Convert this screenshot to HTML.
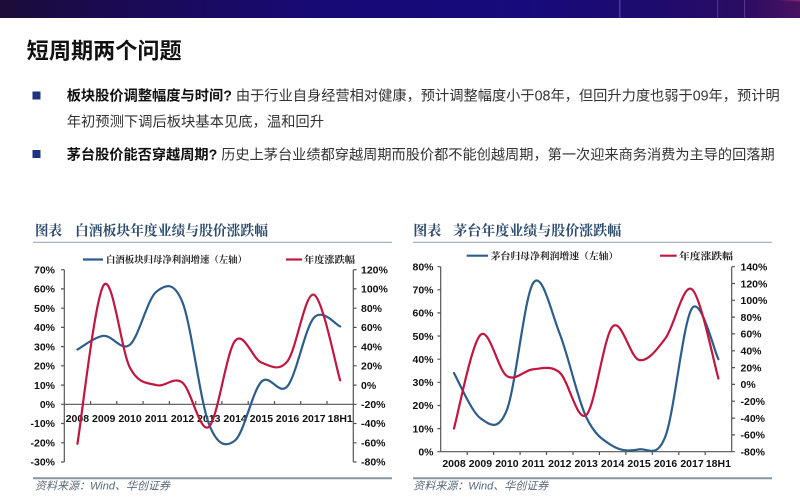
<!DOCTYPE html>
<html>
<head>
<meta charset="utf-8">
<style>
  html,body{margin:0;padding:0;background:#fff;}
  body{width:800px;height:499px;overflow:hidden;}
  svg{display:block;}
  .sans{font-family:"Liberation Sans","Noto Sans CJK SC",sans-serif;}
  .serif{font-family:"Liberation Serif","Noto Serif CJK SC",serif;}
  .ax{font-family:"Liberation Sans",Arial,sans-serif;font-weight:bold;font-size:10.5px;fill:#111;}
</style>
</head>
<body>
<svg id="s" width="800" height="499" viewBox="0 0 800 499" xmlns="http://www.w3.org/2000/svg">
  <defs>
    <linearGradient id="bn" x1="0" y1="0" x2="1" y2="0">
      <stop offset="0" stop-color="#1b0c3a"/>
      <stop offset="0.15" stop-color="#1b0a52"/>
      <stop offset="0.4" stop-color="#170a76"/>
      <stop offset="0.65" stop-color="#160a7c"/>
      <stop offset="0.82" stop-color="#1e0b6e"/>
      <stop offset="0.93" stop-color="#2b0c62"/>
      <stop offset="1" stop-color="#4a1262"/>
    </linearGradient>
    <radialGradient id="glow" cx="1" cy="0" r="0.12" gradientUnits="objectBoundingBox">
      <stop offset="0" stop-color="#a0307a" stop-opacity="0.8"/>
      <stop offset="1" stop-color="#a0307a" stop-opacity="0"/>
    </radialGradient>
  </defs>

  <!-- banner -->
  <rect x="0" y="0" width="800" height="18" fill="url(#bn)"/>
  <rect x="600" y="0" width="200" height="18" fill="url(#glow)"/>
  <rect x="619" y="0" width="1.5" height="18" fill="#6a5ab8" opacity="0.6"/>
  <rect x="717" y="0" width="1.2" height="18" fill="#6a5ab8" opacity="0.5"/>
  <rect x="744" y="0" width="1.2" height="18" fill="#7a5ab8" opacity="0.5"/>

  <!-- title -->
  <text class="sans" x="26.7" y="58.4" font-size="22" font-weight="bold" fill="#111" textLength="155" lengthAdjust="spacingAndGlyphs">短周期两个问题</text>

  <!-- bullets -->
  <rect x="32.5" y="91.5" width="8" height="8" fill="#1f3480"/>
  <rect x="32.5" y="150" width="8" height="8" fill="#1f3480"/>
  <text class="sans" x="66.7" y="100.4" font-size="14.3" fill="#333" textLength="713" lengthAdjust="spacingAndGlyphs"><tspan font-weight="bold" fill="#111">板块股价调整幅度与时间?</tspan> 由于行业自身经营相对健康，预计调整幅度小于08年，但回升力度也弱于09年，预计明</text>
  <text class="sans" x="66.7" y="126.4" font-size="14.3" fill="#333">年初预测下调后板块基本见底，温和回升</text>
  <text class="sans" x="66.7" y="159.4" font-size="14.3" fill="#333" textLength="708" lengthAdjust="spacingAndGlyphs"><tspan font-weight="bold" fill="#111">茅台股价能否穿越周期?</tspan> 历史上茅台业绩都穿越周期而股价都不能创越周期，第一次迎来商务消费为主导的回落期</text>

  <!-- ================= CHART 1 ================= -->
  <text class="serif" x="35" y="235.3" font-size="14" font-weight="bold" fill="#2c4a6e" textLength="27" lengthAdjust="spacingAndGlyphs">图表</text>
  <text class="serif" x="75" y="235.3" font-size="14" font-weight="bold" fill="#2c4a6e" textLength="193" lengthAdjust="spacingAndGlyphs">白酒板块年度业绩与股价涨跌幅</text>
  <line x1="33" y1="242.3" x2="392" y2="242.3" stroke="#9aabbd" stroke-width="1.2"/>

  <line x1="83" y1="259.5" x2="103" y2="259.5" stroke="#2d5d8b" stroke-width="2.2"/>
  <text class="serif" x="106" y="263" font-size="9.5" font-weight="bold" fill="#222" textLength="141" lengthAdjust="spacingAndGlyphs">白酒板块归母净利润增速（左轴）</text>
  <line x1="286" y1="259.5" x2="302" y2="259.5" stroke="#c0163f" stroke-width="2.2"/>
  <text class="serif" x="304" y="263" font-size="9.5" font-weight="bold" fill="#222" textLength="51" lengthAdjust="spacingAndGlyphs">年度涨跌幅</text>

  <!-- axes -->
  <g stroke="#555" stroke-width="1.2" fill="none">
    <line x1="64.3" y1="269.7" x2="64.3" y2="462"/>
    <line x1="353.3" y1="269.7" x2="353.3" y2="462"/>
    <line x1="64.3" y1="404.3" x2="353.3" y2="404.3"/>
    <path d="M61,269.7h3.3M61,288.9h3.3M61,308.2h3.3M61,327.4h3.3M61,346.6h3.3M61,365.8h3.3M61,385.1h3.3M61,404.3h3.3M61,423.5h3.3M61,442.8h3.3M61,462h3.3"/>
    <path d="M353.3,269.7h3.3M353.3,288.9h3.3M353.3,308.2h3.3M353.3,327.4h3.3M353.3,346.6h3.3M353.3,365.8h3.3M353.3,385.1h3.3M353.3,404.3h3.3M353.3,423.5h3.3M353.3,442.8h3.3M353.3,462h3.3"/>
    <path d="M90.6,401v3.3M116.8,401v3.3M143.1,401v3.3M169.4,401v3.3M195.7,401v3.3M221.9,401v3.3M248.2,401v3.3M274.5,401v3.3M300.7,401v3.3M327,401v3.3"/>
  </g>

  <g class="ax" text-anchor="end">
    <text x="55" y="273.4">70%</text>
    <text x="55" y="292.6">60%</text>
    <text x="55" y="311.9">50%</text>
    <text x="55" y="331.1">40%</text>
    <text x="55" y="350.3">30%</text>
    <text x="55" y="369.5">20%</text>
    <text x="55" y="388.8">10%</text>
    <text x="55" y="408">0%</text>
    <text x="55" y="427.2">-10%</text>
    <text x="55" y="446.5">-20%</text>
    <text x="55" y="465.7">-30%</text>
  </g>
  <g class="ax" text-anchor="start">
    <text x="361" y="273.4">120%</text>
    <text x="361" y="292.6">100%</text>
    <text x="361" y="311.9">80%</text>
    <text x="361" y="331.1">60%</text>
    <text x="361" y="350.3">40%</text>
    <text x="361" y="369.5">20%</text>
    <text x="361" y="388.8">0%</text>
    <text x="361" y="408">-20%</text>
    <text x="361" y="427.2">-40%</text>
    <text x="361" y="446.5">-60%</text>
    <text x="361" y="465.7">-80%</text>
  </g>
  <g class="ax" text-anchor="middle">
    <text x="77.4" y="422">2008</text>
    <text x="103.7" y="422">2009</text>
    <text x="130" y="422">2010</text>
    <text x="156.3" y="422">2011</text>
    <text x="182.5" y="422">2012</text>
    <text x="208.8" y="422">2013</text>
    <text x="235.1" y="422">2014</text>
    <text x="261.4" y="422">2015</text>
    <text x="287.6" y="422">2016</text>
    <text x="313.9" y="422">2017</text>
    <text x="340.2" y="422">18H1</text>
  </g>

  <path id="b1" fill="none" stroke="#2d5d8b" stroke-width="2.2" stroke-linejoin="round" stroke-linecap="round"/>
  <path id="r1" fill="none" stroke="#c0163f" stroke-width="2.2" stroke-linejoin="round" stroke-linecap="round"/>

  <line x1="33" y1="478.3" x2="392" y2="478.3" stroke="#8794a2" stroke-width="2"/>
  <text class="sans" x="35" y="489.7" font-size="11" font-style="italic" fill="#5a6878">资料来源：Wind、华创证券</text>

  <!-- ================= CHART 2 ================= -->
  <text class="serif" x="413.3" y="235.3" font-size="14" font-weight="bold" fill="#2c4a6e" textLength="28" lengthAdjust="spacingAndGlyphs">图表</text>
  <text class="serif" x="453.3" y="235.3" font-size="14" font-weight="bold" fill="#2c4a6e" textLength="168" lengthAdjust="spacingAndGlyphs">茅台年度业绩与股价涨跌幅</text>
  <line x1="413" y1="242.3" x2="772" y2="242.3" stroke="#9aabbd" stroke-width="1.2"/>

  <line x1="466.7" y1="255.7" x2="488" y2="255.7" stroke="#2d5d8b" stroke-width="2.2"/>
  <text class="serif" x="490.7" y="259.3" font-size="9.5" font-weight="bold" fill="#222" textLength="127.6" lengthAdjust="spacingAndGlyphs">茅台归母净利润增速（左轴）</text>
  <line x1="660" y1="255.7" x2="676.7" y2="255.7" stroke="#c0163f" stroke-width="2.2"/>
  <text class="serif" x="679" y="259.3" font-size="9.5" font-weight="bold" fill="#222" textLength="54" lengthAdjust="spacingAndGlyphs">年度涨跌幅</text>

  <g stroke="#555" stroke-width="1.2" fill="none">
    <line x1="440.7" y1="266.7" x2="440.7" y2="451.7"/>
    <line x1="731.7" y1="266.7" x2="731.7" y2="451.7"/>
    <line x1="440.7" y1="451.7" x2="731.7" y2="451.7"/>
    <path d="M437.4,266.7h3.3M437.4,289.8h3.3M437.4,312.9h3.3M437.4,336h3.3M437.4,359.2h3.3M437.4,382.3h3.3M437.4,405.5h3.3M437.4,428.6h3.3M437.4,451.7h3.3"/>
    <path d="M731.7,266.7h3.3M731.7,283.5h3.3M731.7,300.3h3.3M731.7,317.1h3.3M731.7,333.9h3.3M731.7,350.8h3.3M731.7,367.6h3.3M731.7,384.4h3.3M731.7,401.2h3.3M731.7,418.1h3.3M731.7,434.9h3.3M731.7,451.7h3.3"/>
    <path d="M467.2,451.7v3.3M493.6,451.7v3.3M520.1,451.7v3.3M546.5,451.7v3.3M573,451.7v3.3M599.4,451.7v3.3M625.9,451.7v3.3M652.3,451.7v3.3M678.8,451.7v3.3M705.2,451.7v3.3"/>
  </g>

  <g class="ax" text-anchor="end">
    <text x="433.5" y="270.4">80%</text>
    <text x="433.5" y="293.5">70%</text>
    <text x="433.5" y="316.6">60%</text>
    <text x="433.5" y="339.8">50%</text>
    <text x="433.5" y="362.9">40%</text>
    <text x="433.5" y="386.1">30%</text>
    <text x="433.5" y="409.2">20%</text>
    <text x="433.5" y="432.3">10%</text>
    <text x="433.5" y="455.4">0%</text>
  </g>
  <g class="ax" text-anchor="start">
    <text x="740.5" y="270.4">140%</text>
    <text x="740.5" y="287.3">120%</text>
    <text x="740.5" y="304.1">100%</text>
    <text x="740.5" y="320.9">80%</text>
    <text x="740.5" y="337.7">60%</text>
    <text x="740.5" y="354.5">40%</text>
    <text x="740.5" y="371.3">20%</text>
    <text x="740.5" y="388.2">0%</text>
    <text x="740.5" y="405">-20%</text>
    <text x="740.5" y="421.8">-40%</text>
    <text x="740.5" y="438.6">-60%</text>
    <text x="740.5" y="455.4">-80%</text>
  </g>
  <g class="ax" text-anchor="middle">
    <text x="454" y="467">2008</text>
    <text x="480.4" y="467">2009</text>
    <text x="506.9" y="467">2010</text>
    <text x="533.3" y="467">2011</text>
    <text x="559.8" y="467">2012</text>
    <text x="586.2" y="467">2013</text>
    <text x="612.7" y="467">2014</text>
    <text x="639.1" y="467">2015</text>
    <text x="665.5" y="467">2016</text>
    <text x="692" y="467">2017</text>
    <text x="718.4" y="467">18H1</text>
  </g>

  <path id="b2" fill="none" stroke="#2d5d8b" stroke-width="2.2" stroke-linejoin="round" stroke-linecap="round"/>
  <path id="r2" fill="none" stroke="#c0163f" stroke-width="2.2" stroke-linejoin="round" stroke-linecap="round"/>

  <line x1="413" y1="478.3" x2="772" y2="478.3" stroke="#8794a2" stroke-width="2"/>
  <text class="sans" x="413.3" y="489.7" font-size="11" font-style="italic" fill="#5a6878">资料来源：Wind、华创证券</text>
</svg>

<script>
(function(){
  function smooth(xs, ys){
    var n = xs.length, d = "M" + xs[0].toFixed(2) + "," + ys[0].toFixed(2);
    for (var i = 0; i < n - 1; i++){
      var p0x = i > 0 ? xs[i-1] : xs[i], p0y = i > 0 ? ys[i-1] : ys[i];
      var p3x = i + 2 < n ? xs[i+2] : xs[i+1], p3y = i + 2 < n ? ys[i+2] : ys[i+1];
      var c1x = xs[i] + (xs[i+1] - p0x) / 6, c1y = ys[i] + (ys[i+1] - p0y) / 6;
      var c2x = xs[i+1] - (p3x - xs[i]) / 6, c2y = ys[i+1] - (p3y - ys[i]) / 6;
      d += " C" + c1x.toFixed(2) + "," + c1y.toFixed(2) + " " + c2x.toFixed(2) + "," + c2y.toFixed(2) + " " + xs[i+1].toFixed(2) + "," + ys[i+1].toFixed(2);
    }
    return d;
  }
  var x1 = [], x2 = [];
  for (var i = 0; i < 11; i++){ x1.push(64.3 + 26.27*(i+0.5)); x2.push(440.7 + 26.45*(i+0.5)); }
  var b1 = [28.5, 35.6, 31, 58.5, 53, -10, -18.8, 11.7, 9.5, 45, 40.5];
  var r1 = [-61, 104, 18, 0, 2.5, -43.5, 46, 23.5, 25, 94, 5];
  var b2 = [34, 14.5, 18, 73, 51, 15, 2.5, 1, 6.8, 62, 40];
  var r2 = [-52.5, 58.8, 10, 18, 14, -36.5, 68.8, 29, 55, 113, 7];
  document.getElementById("b1").setAttribute("d", smooth(x1, b1.map(function(v){return 404.3 - v*1.923;})));
  document.getElementById("r1").setAttribute("d", smooth(x1, r1.map(function(v){return 385.1 - v*0.9615;})));
  document.getElementById("b2").setAttribute("d", smooth(x2, b2.map(function(v){return 451.7 - v*2.3125;})));
  document.getElementById("r2").setAttribute("d", smooth(x2, r2.map(function(v){return 384.4 - v*0.8409;})));
})();
</script>
</body>
</html>
